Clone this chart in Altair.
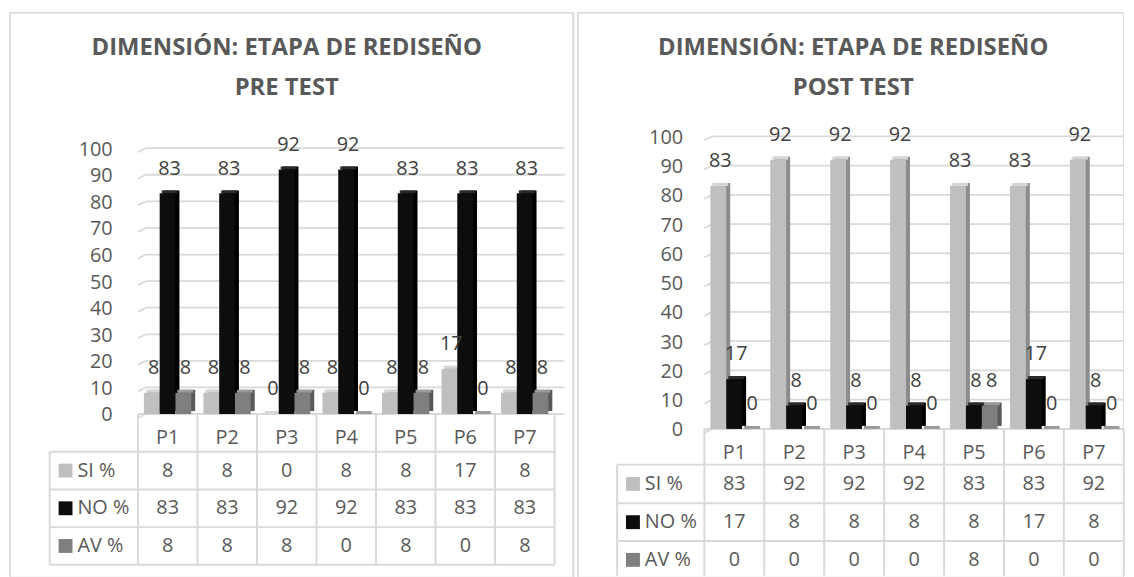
import altair as alt
import pandas as pd

# ---------------- data ----------------
categories = ["P1", "P2", "P3", "P4", "P5", "P6", "P7"]
series = ["SI %", "NO %", "AV %"]
pre_si = [8, 8, 0, 8, 8, 17, 8]
pre_no = [83, 83, 92, 92, 83, 83, 83]
pre_av = [8, 8, 8, 0, 8, 0, 8]
post_si = [83, 92, 92, 92, 83, 83, 92]
post_no = [17, 8, 8, 8, 8, 17, 8]
post_av = [0, 0, 0, 0, 8, 0, 0]
title_main = "DIMENSIÓN: ETAPA DE REDISEÑO"
pre_sub = "PRE TEST"
post_sub = "POST TEST"
y_ticks = list(range(0, 101, 10))

# ---------------- styles ----------------
front_colors = ["#bfbfbf", "#0d0d0d", "#7f7f7f"]
side_colors = ["#8c8c8c", "#000000", "#595959"]
top_colors = ["#d6d6d6", "#2b2b2b", "#9a9a9a"]
LINE = "#d9d9d9"
TXT = "#595959"
LBL = "#404040"
FONT = "Open Sans"
FS = 20

# layout of each panel in page pixels
LAY_PRE = dict(x0=8, w=568, y0=8, h=569, col0=137, colw=60.0, floor=413, unit=2.68,
               rows=[451, 489, 527, 565], hdr_y=437, lab_left=48, grid_right=567,
               axis_right=111, title_x=287, left_border=True, right_border=True)
LAY_POST = dict(x0=576, w=550, y0=8, h=569, col0=704, colw=60.4, floor=428, unit=2.95,
                rows=[464, 503, 541, 579], hdr_y=452, lab_left=616, grid_right=1126,
                axis_right=682, title_x=854, left_border=True, right_border=False)
TITLE_BASE = 50.6
TITLE_LH = 40.5

BAR_W = 0.265
BAR_START = -0.4


def panel(values, subtitle, L):
    u = lambda px: (px - L["col0"]) / L["colw"] + 0.5
    v = lambda py: (L["floor"] - py) / L["unit"]
    xdom = [u(L["x0"]), u(L["x0"] + L["w"])]
    ydom = [v(L["y0"] + L["h"]), v(L["y0"])]
    xsc = alt.Scale(domain=xdom, nice=False, zero=False)
    ysc = alt.Scale(domain=ydom, nice=False, zero=False)
    yax = alt.Axis(values=y_ticks, offset=-(L["axis_right"] - L["x0"]), ticks=False,
                   domain=False, grid=False, labelPadding=0, labelFontSize=FS,
                   labelColor=TXT, labelFont=FONT, title=None, labelOffset=1)

    def X(f):
        return alt.X(f, type="quantitative", scale=xsc, axis=None)

    def Y(f):
        return alt.Y(f, type="quantitative", scale=ysc, axis=yax)

    # bars
    rows = []
    for i, cat in enumerate(categories):
        for s, name in enumerate(series):
            xs = (i + 1) + BAR_START + s * BAR_W
            rows.append(dict(cat=cat, series=name, val=values[s][i], base=0,
                             xs=xs, xe=xs + BAR_W, ctr=xs + BAR_W / 2,
                             front=front_colors[s], side=side_colors[s],
                             top=top_colors[s]))
    bars = pd.DataFrame(rows)

    back = alt.Chart(bars).mark_rect(xOffset=4, x2Offset=4, yOffset=-3, y2Offset=-3).encode(
        x=X("xs"), x2="xe", y=Y("val"), y2="base", color=alt.Color("side:N", scale=None))
    topf = alt.Chart(bars).mark_rect(xOffset=2, x2Offset=2, yOffset=-3).encode(
        x=X("xs"), x2="xe", y=Y("val"), y2="val", color=alt.Color("top:N", scale=None))
    front = alt.Chart(bars).mark_rect().encode(
        x=X("xs"), x2="xe", y=Y("val"), y2="base", color=alt.Color("front:N", scale=None))
    labels = alt.Chart(bars).mark_text(fontSize=FS, font=FONT, color=LBL, dx=2, dy=-25,
                                       baseline="middle").encode(
        x=X("ctr"), y=Y("val"), text="val:Q")

    # gridlines (back wall with small perspective bend)
    xa = u(L["col0"])
    xb = xa + 8 / L["colw"]
    xr = u(L["grid_right"])
    grid = pd.DataFrame([dict(t=t, ya=t - 4 / L["unit"], xa=xa, xb=xb, xr=xr) for t in y_ticks])
    grid_h = alt.Chart(grid).mark_rule(color=LINE, strokeWidth=1.8).encode(
        x=X("xb"), x2="xr", y=Y("t"))
    grid_d = alt.Chart(grid).mark_rule(color=LINE, strokeWidth=1.8).encode(
        x=X("xa"), x2="xb", y=Y("ya"), y2="t")

    # data table lines
    bottom_px = min(L["rows"][-1], L["y0"] + L["h"] - 1)
    xl = u(L["lab_left"])
    xend = len(categories) + 0.5
    hl = pd.DataFrame([dict(y=v(p), x1=xl, x2=xend) for p in L["rows"] if p <= L["y0"] + L["h"] - 1]
                      + [dict(y=0.0, x1=xa, x2=xend)])
    vl = pd.DataFrame([dict(x=k + 0.5, y1=v(bottom_px), y2=0.0) for k in range(len(categories) + 1)]
                      + [dict(x=xl, y1=v(bottom_px), y2=v(L["rows"][0]))])
    t_h = alt.Chart(hl).mark_rule(color=LINE, strokeWidth=2).encode(x=X("x1"), x2="x2", y=Y("y"))
    t_v = alt.Chart(vl).mark_rule(color=LINE, strokeWidth=2).encode(x=X("x"), y=Y("y1"), y2="y2")

    # table texts
    hdr = pd.DataFrame([dict(x=i + 1, y=v(L["hdr_y"]), t=c) for i, c in enumerate(categories)])
    t_hdr = alt.Chart(hdr).mark_text(fontSize=FS, font=FONT, color=TXT).encode(
        x=X("x"), y=Y("y"), text="t:N")
    cells = []
    keys = []
    for s, name in enumerate(series):
        yc = (v(L["rows"][s]) + v(L["rows"][s + 1])) / 2
        keys.append(dict(xk=u(L["lab_left"] + 16), xt=u(L["lab_left"] + 28), y=yc,
                         t=name, c=front_colors[s]))
        for i in range(len(categories)):
            cells.append(dict(x=i + 1, y=yc, t=str(values[s][i])))
    cells = pd.DataFrame(cells)
    keys = pd.DataFrame(keys)
    t_cells = alt.Chart(cells).mark_text(fontSize=FS, font=FONT, color=TXT).encode(
        x=X("x"), y=Y("y"), text="t:N")
    t_keys = alt.Chart(keys).mark_square(size=196, opacity=1, filled=True).encode(
        x=X("xk"), y=Y("y"), color=alt.Color("c:N", scale=None))
    t_keyl = alt.Chart(keys).mark_text(fontSize=FS, font=FONT, color=TXT, align="left").encode(
        x=X("xt"), y=Y("y"), text="t:N")

    # title (two centred bold lines at the top of the panel)
    tdf = pd.DataFrame([dict(t=title_main + "\n" + subtitle)])
    title = alt.Chart(tdf).mark_text(fontSize=24, font=FONT, fontWeight="bold", color=TXT,
                                     align="center", baseline="alphabetic", lineBreak="\n",
                                     lineHeight=TITLE_LH).encode(
        x=alt.value(L["title_x"] - L["x0"]), y=alt.value(TITLE_BASE - L["y0"]), text="t:N")

    # panel borders
    layers = [grid_h, grid_d, t_h, t_v, back, topf, front, labels, t_hdr, t_cells, t_keys,
              t_keyl, title]
    bdf = pd.DataFrame([dict(k=1)])
    top_b = alt.Chart(bdf).mark_rule(color=LINE, strokeWidth=1.5).encode(
        x=alt.value(0), x2=alt.value(L["w"]), y=alt.value(0.5))
    layers.append(top_b)
    if L["left_border"]:
        layers.append(alt.Chart(bdf).mark_rule(color=LINE, strokeWidth=1.5).encode(
            x=alt.value(0.5 if L["x0"] > 8 else 0), y=alt.value(0), y2=alt.value(L["h"])))
    if L["right_border"]:
        layers.append(alt.Chart(bdf).mark_rule(color=LINE, strokeWidth=1.5).encode(
            x=alt.value(L["w"] - 0.5), y=alt.value(0), y2=alt.value(L["h"])))

    return alt.layer(*layers).properties(width=L["w"], height=L["h"])


left = panel([pre_si, pre_no, pre_av], pre_sub, LAY_PRE)
right = panel([post_si, post_no, post_av], post_sub, LAY_POST)

chart = alt.hconcat(left, right, spacing=0).properties(padding=0).configure_view(
    stroke=None).configure(font=FONT)

chart.save("out.html", embed_options={"renderer": "svg", "actions": False})
